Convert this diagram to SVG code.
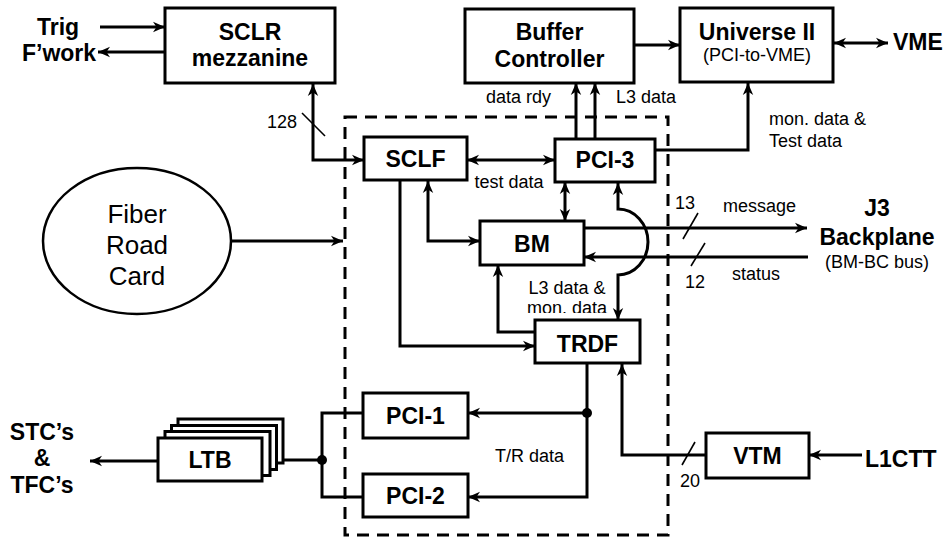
<svg xmlns="http://www.w3.org/2000/svg" width="948" height="539" viewBox="0 0 948 539">
<style>
text{font-family:"Liberation Sans",Arial,Helvetica,sans-serif;fill:#000}
.b{font-weight:bold;font-size:23px}
.s{font-size:18px}
.box{fill:#fff;stroke:#000;stroke-width:3}
.ln{fill:none;stroke:#000;stroke-width:3}
.a{marker-end:url(#ah)}
.aa{marker-start:url(#ah);marker-end:url(#ah)}
.sl{stroke:#000;stroke-width:1.6}
.mid{text-anchor:middle}
</style>
<defs>
<marker id="ah" viewBox="0 0 13 12" refX="12.5" refY="6" markerWidth="13" markerHeight="12" markerUnits="userSpaceOnUse" orient="auto-start-reverse">
<path d="M0.5,0.8 L12.5,6 L0.5,11.2 L4,6 z" fill="#000"/>
</marker>
<clipPath id="cl"><rect x="500" y="270" width="130" height="43"/></clipPath>
</defs>

<rect x="345" y="117" width="323" height="418" fill="none" stroke="#000" stroke-width="3" stroke-dasharray="12,8"/>

<g id="connectors">
<line class="ln a" x1="100" y1="27" x2="165" y2="27"/>
<line class="ln a" x1="165" y1="52" x2="98" y2="52"/>
<path class="ln aa" d="M313,84 L313,160 L364,160"/>
<line class="sl" x1="302" y1="113" x2="325" y2="136"/>
<line class="ln aa" x1="467" y1="160" x2="555" y2="160"/>
<line class="ln a" x1="576" y1="138" x2="576" y2="83"/>
<line class="ln a" x1="595" y1="138" x2="595" y2="83"/>
<line class="ln a" x1="634" y1="45" x2="680" y2="45"/>
<line class="ln aa" x1="834" y1="43" x2="888" y2="43"/>
<path class="ln a" d="M655,150 L748,150 L748,83"/>
<path class="ln a" d="M400,180 L400,346 L535,346"/>
<path class="ln aa" d="M428,181 L428,241 L480,241"/>
<line class="ln aa" x1="565" y1="182" x2="565" y2="221"/>
<path class="ln aa" d="M618,183 L618,209 A30,33 0 0 1 618,275 L618,320"/>
<line class="ln a" x1="584" y1="228" x2="807" y2="228"/>
<line class="ln a" x1="808" y1="257" x2="584" y2="257"/>
<line class="sl" x1="683" y1="239" x2="698" y2="213"/>
<line class="sl" x1="691" y1="266" x2="705" y2="243"/>
<line class="ln a" x1="230" y1="241" x2="343" y2="241"/>
<path class="ln a" d="M535,332 L498,332 L498,265"/>
<path class="ln a" d="M587,363 L587,497 L468,497"/>
<line class="ln a" x1="587" y1="413" x2="468" y2="413"/>
<circle cx="587" cy="413" r="5" fill="#000"/>
<path class="ln a" d="M706,455 L622,455 L622,364"/>
<line class="sl" x1="682" y1="465" x2="695" y2="442"/>
<line class="ln a" x1="862" y1="455" x2="809" y2="455"/>
<path class="ln" d="M363,413 L322,413 L322,497 L363,497"/>
<line class="ln a" x1="322" y1="460" x2="262" y2="460"/>
<circle cx="322" cy="460" r="5" fill="#000"/>
<line class="ln a" x1="158" y1="461" x2="90" y2="461"/>
</g>

<g id="labels">
<text class="b mid" x="58" y="35">Trig</text>
<text class="b mid" x="59" y="61">F’work</text>
<text class="s" x="267" y="128">128</text>
<text class="s" x="486" y="103">data rdy</text>
<text class="s" x="616" y="103">L3 data</text>
<text class="s" x="769" y="125">mon. data &amp;</text>
<text class="s" x="769" y="147">Test data</text>
<text class="b" x="893" y="50">VME</text>
<text class="s mid" x="509" y="188">test data</text>
<text class="s" x="675" y="209">13</text>
<text class="s" x="723" y="212">message</text>
<text class="s" x="685" y="288">12</text>
<text class="s" x="732" y="280">status</text>
<text class="b mid" x="877" y="216">J3</text>
<text class="b mid" x="877" y="245">Backplane</text>
<text class="s mid" x="877" y="268">(BM-BC bus)</text>
<g clip-path="url(#cl)">
<text class="s mid" x="567" y="294">L3 data &amp;</text>
<text class="s mid" x="567" y="314">mon. data</text>
</g>
<text class="s" x="495" y="462">T/R data</text>
<text class="s" x="680" y="487">20</text>
<text class="b" x="865" y="467">L1CTT</text>
<text class="b mid" x="42" y="440">STC’s</text>
<text class="b mid" x="42" y="466">&amp;</text>
<text class="b mid" x="42" y="493">TFC’s</text>
</g>

<g id="sclr"><rect class="box" x="165" y="8" width="170" height="75"/>
<text class="b mid" x="250" y="40">SCLR</text><text class="b mid" x="250" y="66">mezzanine</text></g>
<g id="buffer"><rect class="box" x="465" y="9" width="169" height="74"/>
<text class="b mid" x="549.5" y="40">Buffer</text><text class="b mid" x="549.5" y="67">Controller</text></g>
<g id="universe"><rect class="box" x="680" y="8" width="153" height="74"/>
<text class="b mid" x="757" y="40">Universe II</text><text class="s mid" x="757" y="61">(PCI-to-VME)</text></g>
<g id="sclf"><rect class="box" x="364" y="137" width="103" height="43"/>
<text class="b mid" x="415.5" y="167">SCLF</text></g>
<g id="pci3"><rect class="box" x="555" y="139" width="100" height="43"/>
<text class="b mid" x="605" y="168">PCI-3</text></g>
<g id="bm"><rect class="box" x="480" y="221" width="104" height="44"/>
<text class="b mid" x="532" y="252">BM</text></g>
<g id="trdf"><rect class="box" x="535" y="320" width="105" height="43"/>
<text class="b mid" x="587.5" y="352">TRDF</text></g>
<g id="pci1"><rect class="box" x="363" y="393" width="105" height="45"/>
<text class="b mid" x="415.5" y="424">PCI-1</text></g>
<g id="pci2"><rect class="box" x="363" y="474" width="105" height="43"/>
<text class="b mid" x="415.5" y="504">PCI-2</text></g>
<g id="vtm"><rect class="box" x="706" y="433" width="103" height="45"/>
<text class="b mid" x="757.5" y="464">VTM</text></g>
<g id="ltb">
<rect class="box" x="178" y="419" width="105" height="44"/>
<rect class="box" x="171.5" y="425.5" width="105" height="44"/>
<rect class="box" x="165" y="431.5" width="105" height="44"/>
<rect class="box" x="158" y="438" width="104" height="43"/>
<text class="b mid" x="210" y="468">LTB</text></g>
<g id="fiber"><ellipse cx="137" cy="241" rx="94" ry="73" fill="#fff" stroke="#000" stroke-width="2.5"/>
<text class="mid" x="137" y="223" font-size="26">Fiber</text>
<text class="mid" x="137" y="254" font-size="26">Road</text>
<text class="mid" x="137" y="285" font-size="26">Card</text></g>
</svg>
